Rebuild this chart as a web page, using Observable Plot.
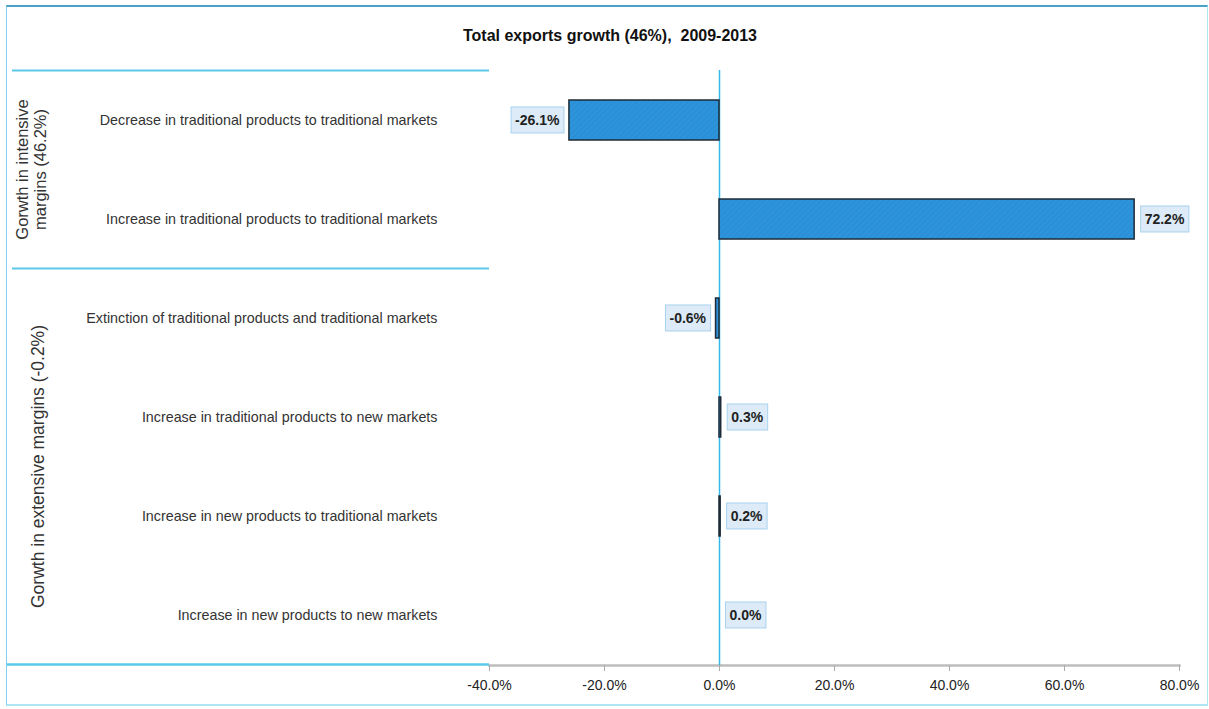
<!DOCTYPE html>
<html><head><meta charset="utf-8">
<script src="https://cdn.jsdelivr.net/npm/d3@7"></script>
<script src="https://cdn.jsdelivr.net/npm/@observablehq/plot@0.6"></script>
<style>
body{margin:0;background:#fff;}
#wrap{position:relative;width:1209px;height:709px;overflow:hidden;background:#fff;}
#frame{position:absolute;left:6px;top:5px;width:1202px;height:701px;border-top:2px solid #4aa3c3;border-left:1px solid #7fd0ec;border-right:1px solid #aee6f5;border-bottom:2px solid #aee6f5;box-sizing:border-box;pointer-events:none;}
#title{position:absolute;left:0;width:1220px;top:27px;text-align:center;font:bold 16px "Liberation Sans",Arial,sans-serif;color:#111;white-space:pre;}
#wrap svg{position:absolute;left:0;top:0;}
</style>
</head><body>
<div id="wrap"><div id="title"></div></div>
<script>
const title = "Total exports growth (46%),  2009-2013";
const categories = [
  "Decrease in traditional products to traditional markets",
  "Increase in traditional products to traditional markets",
  "Extinction of traditional products and traditional markets",
  "Increase in traditional products to new markets",
  "Increase in new products to traditional markets",
  "Increase in new products to new markets"
];
const values = [-26.1, 72.2, -0.6, 0.3, 0.2, 0.0];
const groups = ["intensive", "intensive", "extensive", "extensive", "extensive", "extensive"];
const groupKeys = ["intensive", "extensive"];
const groupLabels = [["Gorwth in intensive", "margins (46.2%)"], ["Gorwth in extensive margins (-0.2%)"]];
const xTicks = [-40, -20, 0, 20, 40, 60, 80];

const data = categories.map((c, i) => ({category: c, value: values[i], group: groups[i]}));
const FONT = '"Liberation Sans",Arial,sans-serif';
const fmt = d => d.toFixed(1) + "%";

document.getElementById("title").textContent = title;

const plot = Plot.plot({
  width: 1209, height: 709,
  marginTop: 70, marginBottom: 44, marginLeft: 489, marginRight: 30,
  style: {fontFamily: FONT, fontSize: "14px", color: "#222", background: "transparent"},
  x: {domain: [-40, 80]},
  y: {domain: categories, paddingInner: 0.6, paddingOuter: 0.3},
  marks: [
    Plot.frame({anchor: "bottom", stroke: "#bdbdbd", strokeWidth: 2.5}),
    Plot.axisX({ticks: xTicks, tickFormat: fmt, tickSize: 6, tickPadding: 9, stroke: "#aaa", fill: "#222", fontSize: 14, label: null}),
    Plot.axisY({tickSize: 0, tickPadding: 52, fill: "#333", fontSize: 14.3, label: null}),
    Plot.ruleX([0], {stroke: "#34b8ea", strokeWidth: 1.5}),
    Plot.barX(data, {filter: d => d.value !== 0, x: "value", y: "category", fill: "url(#hatch)", stroke: "#1f2b36", strokeWidth: 1.5}),
    Plot.text(data, {filter: d => d.value < 0, x: "value", y: "category", text: d => fmt(d.value), textAnchor: "end", dx: -10, fontWeight: "bold", fontSize: 14, fill: "#222"}),
    Plot.text(data, {filter: d => d.value >= 0, x: "value", y: "category", text: d => fmt(d.value), textAnchor: "start", dx: 10, fontWeight: "bold", fontSize: 14, fill: "#222"})
  ]
});
document.getElementById("wrap").prepend(plot);
const fr = document.createElement("div"); fr.id = "frame"; document.getElementById("wrap").append(fr);

const svg = d3.select(plot);
const defs = svg.insert("defs", ":first-child");
const pat = defs.append("pattern").attr("id", "hatch").attr("patternUnits", "userSpaceOnUse")
  .attr("width", 4).attr("height", 4).attr("patternTransform", "rotate(45)");
pat.append("rect").attr("width", 4).attr("height", 4).attr("fill", "#2a91d8");
pat.append("line").attr("x1", 0).attr("y1", 0).attr("x2", 0).attr("y2", 4).attr("stroke", "#3b9ade").attr("stroke-width", 1);

// label boxes behind value labels
svg.selectAll('g[aria-label="text"] text').each(function() {
  const b = this.getBBox();
  const r = document.createElementNS("http://www.w3.org/2000/svg", "rect");
  r.setAttribute("x", b.x - 4); r.setAttribute("y", b.y - 5);
  r.setAttribute("width", b.width + 8); r.setAttribute("height", b.height + 10);
  r.setAttribute("fill", "#dcebf7"); r.setAttribute("stroke", "#a8d2ee"); r.setAttribute("stroke-width", 1);
  if (this.getAttribute("transform")) r.setAttribute("transform", this.getAttribute("transform"));
  this.parentNode.insertBefore(r, this);
});

// group separators and labels from the y scale
const ys = plot.scale("y");
const gap = (ys.step - ys.bandwidth) / 2;
const ml = 489;
const g = svg.append("g");
groupKeys.forEach((k, gi) => {
  const cats = categories.filter((c, i) => groups[i] === k);
  const top = ys.apply(cats[0]) - gap;
  const bot = ys.apply(cats[cats.length - 1]) + ys.bandwidth + gap;
  g.append("line").attr("x1", 12).attr("x2", ml).attr("y1", top).attr("y2", top).attr("stroke", "#5cc9ea").attr("stroke-width", 2);
  if (gi === groupKeys.length - 1)
    g.append("line").attr("x1", 6).attr("x2", ml).attr("y1", bot).attr("y2", bot).attr("stroke", "#5cc9ea").attr("stroke-width", 2.5);
  const lines = groupLabels[gi];
  const cx = lines.length === 2 ? 22 : 38;
  const t = g.append("text").attr("transform", `translate(${cx},${(top + bot) / 2}) rotate(-90)`)
    .attr("text-anchor", "middle").attr("fill", "#333")
    .style("font-family", FONT).style("font-size", lines.length === 2 ? "16.5px" : "17.5px");
  lines.forEach((s, li) => t.append("tspan").attr("x", 0).attr("dy", li === 0 ? "0.35em" : 18).text(s));
});
</script>
</body></html>
